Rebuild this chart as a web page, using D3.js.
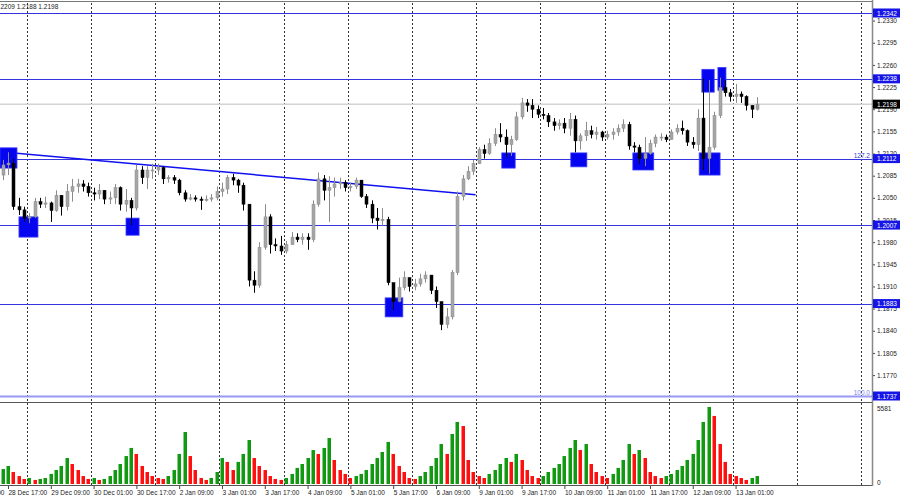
<!DOCTYPE html>
<html>
<head>
<meta charset="utf-8">
<script src="https://cdn.jsdelivr.net/npm/d3@7"></script>
<style>
body { margin: 0; background: #fff; }
text { font-family: "Liberation Sans", Arial, sans-serif; }
</style>
</head>
<body>
<div id="graph"></div>
<script>
// bars are 2 hour candles, open = previous close
const firstOpen = 1.2086;
const closes = [1.2102,1.2105,1.2036,1.2031,1.2018,1.2020,1.2044,1.2040,1.2042,1.2030,
  1.2054,1.2036,1.2060,1.2068,1.2072,1.2068,1.2058,1.2056,1.2062,1.2048,
  1.2050,1.2066,1.2040,1.2046,1.2034,1.2094,1.2082,1.2094,1.2094,1.2098,
  1.2080,1.2082,1.2078,1.2058,1.2048,1.2050,1.2048,1.2046,1.2048,1.2050,
  1.2060,1.2064,1.2082,1.2078,1.2070,1.2040,1.1920,1.1912,1.1972,1.2020,
  1.1976,1.1974,1.1966,1.1976,1.1988,1.1984,1.1988,1.1984,1.2040,1.2080,
  1.2062,1.2066,1.2072,1.2074,1.2066,1.2068,1.2078,1.2052,1.2040,1.2018,
  1.2014,1.2016,1.1916,1.1886,1.1908,1.1924,1.1910,1.1914,1.1922,1.1928,
  1.1904,1.1886,1.1850,1.1862,1.1932,1.2052,1.2080,1.2092,1.2104,1.2126,
  1.2120,1.2136,1.2150,1.2146,1.2134,1.2142,1.2178,1.2200,1.2196,1.2190,
  1.2182,1.2180,1.2170,1.2164,1.2168,1.2160,1.2174,1.2140,1.2148,1.2156,
  1.2150,1.2154,1.2146,1.2150,1.2154,1.2160,1.2166,1.2132,1.2130,1.2112,
  1.2120,1.2136,1.2146,1.2146,1.2142,1.2154,1.2160,1.2156,1.2138,1.2134,
  1.2176,1.2112,1.2130,1.2180,1.2224,1.2216,1.2210,1.2214,1.2210,1.2196,
  1.2190,1.2198];
const highs = [1.2110,1.2122,1.2112,1.2050,1.2036,1.2026,1.2050,1.2050,1.2052,1.2044,
  1.2062,1.2050,1.2072,1.2080,1.2080,1.2078,1.2074,1.2066,1.2072,1.2058,
  1.2060,1.2072,1.2068,1.2064,1.2050,1.2102,1.2100,1.2100,1.2104,1.2104,
  1.2100,1.2086,1.2086,1.2080,1.2062,1.2056,1.2054,1.2052,1.2054,1.2056,
  1.2068,1.2074,1.2086,1.2088,1.2080,1.2074,1.2040,1.1934,1.1980,1.2040,
  1.2024,1.1986,1.1990,1.1982,1.1996,1.1994,1.1994,1.1994,1.2046,1.2090,
  1.2086,1.2084,1.2082,1.2082,1.2078,1.2074,1.2082,1.2078,1.2056,1.2046,
  1.2034,1.2034,1.2020,1.1916,1.1924,1.1934,1.1924,1.1922,1.1930,1.1934,
  1.1928,1.1910,1.1886,1.1876,1.1936,1.2060,1.2086,1.2100,1.2110,1.2130,
  1.2134,1.2144,1.2160,1.2168,1.2158,1.2148,1.2186,1.2208,1.2206,1.2206,
  1.2196,1.2192,1.2184,1.2176,1.2174,1.2176,1.2184,1.2180,1.2152,1.2170,
  1.2164,1.2162,1.2156,1.2156,1.2160,1.2166,1.2174,1.2170,1.2138,1.2134,
  1.2146,1.2142,1.2150,1.2152,1.2150,1.2158,1.2166,1.2172,1.2158,1.2146,
  1.2190,1.2238,1.2236,1.2186,1.2240,1.2236,1.2222,1.2230,1.2218,1.2212,
  1.2194,1.2209];
const lows = [1.2078,1.2086,1.2031,1.2023,1.2012,1.2010,1.2018,1.2034,1.2034,1.2012,
  1.2028,1.2022,1.2030,1.2044,1.2058,1.2060,1.2052,1.2046,1.2048,1.2040,
  1.2040,1.2040,1.2030,1.2028,1.2007,1.2030,1.2072,1.2064,1.2080,1.2086,
  1.2072,1.2074,1.2072,1.2054,1.2044,1.2046,1.2044,1.2031,1.2044,1.2044,
  1.2046,1.2052,1.2056,1.2070,1.2058,1.2030,1.1910,1.1900,1.1908,1.1968,
  1.1962,1.1966,1.1960,1.1962,1.1976,1.1980,1.1976,1.1968,1.1980,1.2036,
  1.2046,1.2012,1.2052,1.2064,1.2060,1.2060,1.2064,1.2050,1.2034,1.2010,
  1.2000,1.2006,1.1912,1.1873,1.1885,1.1904,1.1902,1.1904,1.1910,1.1916,
  1.1898,1.1876,1.1841,1.1844,1.1858,1.1928,1.2046,1.2078,1.2086,1.2104,
  1.2112,1.2118,1.2132,1.2138,1.2114,1.2116,1.2140,1.2174,1.2186,1.2176,
  1.2176,1.2174,1.2162,1.2156,1.2158,1.2152,1.2148,1.2122,1.2126,1.2140,
  1.2144,1.2142,1.2140,1.2142,1.2142,1.2148,1.2154,1.2126,1.2122,1.2104,
  1.2100,1.2118,1.2130,1.2140,1.2138,1.2144,1.2150,1.2150,1.2132,1.2128,
  1.2124,1.2094,1.2088,1.2126,1.2176,1.2210,1.2202,1.2200,1.2200,1.2188,
  1.2176,1.2188];
const volumes = [1070,1290,860,570,360,430,290,360,430,720,
  1000,1290,1860,1430,1000,570,360,430,290,360,
  570,1000,1430,2000,2580,2150,1290,860,570,430,
  360,570,1000,2150,3720,2000,1000,430,290,430,
  860,1860,1580,1000,1580,2150,3150,1860,1290,1000,
  570,360,290,430,720,1150,1430,1860,2430,2150,
  2580,3290,1720,1000,720,430,570,720,1000,1430,
  1860,2290,3010,2150,1290,860,430,360,570,860,
  1290,1860,2860,2150,3580,4440,4150,1720,860,570,
  430,720,1000,1430,1860,1580,2150,1720,1000,570,
  430,570,860,1150,1430,2000,2580,3150,2430,2860,
  1430,860,570,430,720,1150,1720,2860,2150,2430,
  1860,860,570,430,570,720,1000,1290,1720,2150,
  3150,4440,5510,4870,2860,1580,720,570,430,290,
  430,570];

const priceTicks = [1.2330,1.2295,1.2260,1.2225,1.2190,1.2155,1.2120,1.2085,1.2050,
  1.2015,1.1980,1.1945,1.1910,1.1875,1.1840,1.1805,1.1770];
const timeLabels = ["28 Dec 01:00","28 Dec 17:00","29 Dec 09:00","30 Dec 01:00","30 Dec 17:00",
  "2 Jan 09:00","3 Jan 01:00","3 Jan 17:00","4 Jan 09:00","5 Jan 01:00","5 Jan 17:00",
  "6 Jan 09:00","9 Jan 01:00","9 Jan 17:00","10 Jan 09:00","11 Jan 01:00","11 Jan 17:00",
  "12 Jan 09:00","13 Jan 01:00"];
const timeLabelBars = [-7,1,9,17,25,33,41,49,57,65,73,81,89,97,105,113,121,129,137];
const gridBars = [4.5,16.5,28.5,40.5,52.5,64.5,76.5,88.5,100.5,112.5,124.5,136.5,148.5,160.5];

// support / resistance levels
const levels = [1.2342,1.2238,1.2112,1.2007,1.1883,1.1737];
const levelNames = ["","","127.2","","","100.0"];
const lastPrice = 1.2198;
const volMax = 5581;

// falling trend line
const trendBars = [-0.5, 88.4];
const trendPrices = [1.2123, 1.2055];

// blue marker boxes
const boxStart = [-0.5,3.05,23.06,71.5,93.3,106.2,117.8,130.2,130.7,133.7];
const boxEnd = [2.68,6.6,25.5,74.8,95.8,109.2,121.7,134.1,133.0,135.2];
const boxHigh = [1.2129,1.2020,1.2018,1.1892,1.2121,1.2121,1.2121,1.2121,1.2253,1.2256];
const boxLow = [1.2097,1.1988,1.1991,1.1862,1.2097,1.2099,1.2094,1.2086,1.2217,1.2220];

// set up svg
const width = 900, height = 500;
const plotRight = 872, priceTop = 3, priceBottom = 402, volBottom = 485;

let svg = d3.select("#graph")
    .append("svg")
    .attr("width", width)
    .attr("height", height)
    .style("display", "block");

svg.append("defs").append("clipPath").attr("id", "plot")
    .append("rect").attr("x", 0).attr("y", priceTop).attr("width", plotRight).attr("height", priceBottom - priceTop);

let x = d3.scaleLinear().domain([-0.495, 162.5]).range([0, plotRight]);
let y = d3.scaleLinear().domain([1.1737, 1.2342]).range([396, 13]);
let yv = d3.scaleLinear().domain([0, volMax]).range([volBottom - 1, 406]);

let bars = closes.map(function (c, i) {
    return {i: i, o: i == 0 ? firstOpen : closes[i - 1], h: highs[i], l: lows[i], c: c, v: volumes[i]};
});

// vertical dashed grid
svg.append("g").selectAll("line")
    .data(gridBars)
    .enter().append("line")
    .attr("x1", function (d) { return Math.round(x(d)) + 0.5; })
    .attr("x2", function (d) { return Math.round(x(d)) + 0.5; })
    .attr("y1", priceTop)
    .attr("y2", volBottom)
    .style("stroke", "#333")
    .style("stroke-dasharray", "2,2")
    .style("stroke-width", 1);

// frame
svg.append("line").attr("x1", 0).attr("x2", plotRight).attr("y1", 1.5).attr("y2", 1.5)
    .style("stroke", "#777").style("stroke-width", 1);
svg.append("line").attr("x1", 0).attr("x2", plotRight).attr("y1", priceBottom + 0.5).attr("y2", priceBottom + 0.5)
    .style("stroke", "#555").style("stroke-width", 1);
svg.append("line").attr("x1", 0).attr("x2", plotRight).attr("y1", volBottom + 0.5).attr("y2", volBottom + 0.5)
    .style("stroke", "#555").style("stroke-width", 1);

let price = svg.append("g").attr("clip-path", "url(#plot)");

// current price line
price.append("line")
    .attr("x1", 0).attr("x2", plotRight)
    .attr("y1", y(lastPrice)).attr("y2", y(lastPrice))
    .style("stroke", "#d4d4d4").style("stroke-width", 1.5);

// levels
price.selectAll(".level")
    .data(levels)
    .enter().append("line")
    .attr("class", "level")
    .attr("x1", 0).attr("x2", plotRight)
    .attr("y1", function (d) { return Math.round(y(d)) + 0.5; })
    .attr("y2", function (d) { return Math.round(y(d)) + 0.5; })
    .style("stroke", function (d, i) { return i == 5 ? "#9a9af5" : "#3535e0"; })
    .style("stroke-width", function (d, i) { return i == 5 ? 2 : 1; });

price.selectAll(".lvname")
    .data(levels)
    .enter().append("text")
    .attr("x", plotRight - 2)
    .attr("y", function (d) { return y(d) - 1; })
    .attr("text-anchor", "end")
    .style("font-size", "6.5px")
    .style("fill", function (d, i) { return i == 5 ? "#8080ee" : "#3535e0"; })
    .text(function (d, i) { return levelNames[i]; });

// trend line
price.append("line")
    .attr("x1", x(trendBars[0])).attr("y1", y(trendPrices[0]))
    .attr("x2", x(trendBars[1])).attr("y2", y(trendPrices[1]))
    .style("stroke", "#1010f0").style("stroke-width", 1.5);

// boxes
price.selectAll(".box")
    .data(boxStart)
    .enter().append("rect")
    .attr("class", "box")
    .attr("x", function (d) { return x(d); })
    .attr("y", function (d, i) { return y(boxHigh[i]); })
    .attr("width", function (d, i) { return x(boxEnd[i]) - x(d); })
    .attr("height", function (d, i) { return y(boxLow[i]) - y(boxHigh[i]); })
    .style("fill", "#0505f0")
    .style("stroke", "#3a3aff")
    .style("stroke-width", 0.8);

// candles
let candle = price.selectAll(".candle")
    .data(bars)
    .enter().append("g")
    .attr("class", "candle");

candle.append("line")
    .attr("x1", function (d) { return Math.round(x(d.i)) + 0.5; })
    .attr("x2", function (d) { return Math.round(x(d.i)) + 0.5; })
    .attr("y1", function (d) { return y(Math.max(d.h, d.o, d.c)); })
    .attr("y2", function (d) { return y(Math.min(d.l, d.o, d.c)); })
    .style("stroke", function (d) { return d.c >= d.o ? "#8c8c8c" : "#000"; })
    .style("stroke-width", 1);

candle.append("rect")
    .attr("x", function (d) { return Math.round(x(d.i)) - 1; })
    .attr("width", 3)
    .attr("y", function (d) { return y(Math.max(d.o, d.c)); })
    .attr("height", function (d) { return Math.max(1, Math.abs(y(d.o) - y(d.c))); })
    .style("fill", function (d) { return d.c >= d.o ? "#a6a6a6" : "#000"; })
    .style("stroke", function (d) { return d.c >= d.o ? "#8c8c8c" : "#000"; })
    .style("stroke-width", 0.5);

// volumes, green when volume grows
svg.append("g").selectAll("rect")
    .data(bars)
    .enter().append("rect")
    .attr("x", function (d) { return Math.round(x(d.i)) - 1.5; })
    .attr("width", 3.5)
    .attr("y", function (d) { return yv(d.v); })
    .attr("height", function (d) { return yv(0) - yv(d.v); })
    .style("fill", function (d, i) { return i == 0 || d.v >= volumes[i - 1] ? "#119911" : "#ff1010"; });

// price axis
let yAxis = svg.append("g")
    .attr("transform", "translate(" + plotRight + ",0)")
    .call(d3.axisRight(y).tickValues(priceTicks).tickSize(3).tickFormat(d3.format(".4f")));
yAxis.select(".domain").remove();
yAxis.selectAll("line").style("stroke", "#444");
yAxis.selectAll("text").attr("x", 5).style("font-size", "6.5px").style("fill", "#222").style("font-family", "Liberation Sans, Arial");

svg.append("line").attr("x1", plotRight + 0.5).attr("x2", plotRight + 0.5).attr("y1", 0).attr("y2", volBottom + 1)
    .style("stroke", "#888").style("stroke-width", 1.5);

// volume axis labels
let vAxis = svg.append("g")
    .attr("transform", "translate(" + plotRight + ",0)")
    .call(d3.axisRight(yv).tickValues([volMax, 0]).tickSize(0).tickFormat(d3.format("d")));
vAxis.select(".domain").remove();
vAxis.selectAll("text").attr("x", 5).attr("dy", "0.7em").style("font-size", "6.5px").style("fill", "#222");
vAxis.selectAll("text").filter(function (d) { return d == 0; }).attr("dy", "0.1em");

// coloured price tags
let tags = svg.append("g");
levels.concat([lastPrice]).forEach(function (p, i) {
    let isLast = i == levels.length;
    tags.append("rect")
        .attr("x", plotRight + 1).attr("y", y(p) - 4.5)
        .attr("width", width - plotRight - 1).attr("height", 9)
        .style("fill", isLast ? "#000" : "#1515e8");
    tags.append("text")
        .attr("x", plotRight + 5).attr("y", y(p) + 2.5)
        .style("font-size", "6.5px").style("fill", "#fff")
        .text(d3.format(".4f")(p));
});

// time axis
let xAxis = svg.append("g")
    .attr("transform", "translate(0," + (volBottom + 1) + ")")
    .call(d3.axisBottom(x).tickValues(timeLabelBars).tickSize(3)
        .tickFormat(function (d, i) { return timeLabels[i]; }));
xAxis.select(".domain").remove();
xAxis.selectAll("line").style("stroke", "#444");
xAxis.selectAll("text")
    .attr("text-anchor", "start")
    .attr("x", 0)
    .attr("y", 4)
    .style("font-size", "6.5px")
    .style("fill", "#222");

// header with last bar values
let last = bars[bars.length - 1];
svg.append("text")
    .attr("x", -5).attr("y", 9)
    .style("font-size", "6.5px").style("fill", "#222")
    .text([last.h, last.l, last.c].map(d3.format(".4f")).join(" "));
</script>
</body>
</html>
